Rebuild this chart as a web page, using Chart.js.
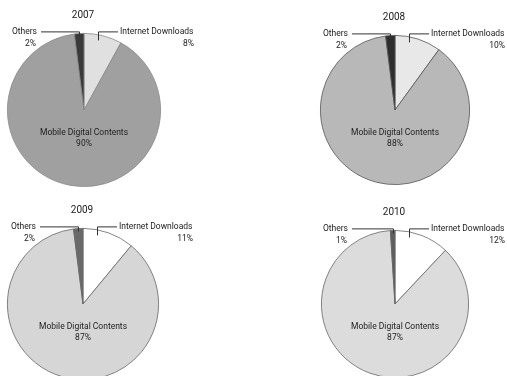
<!DOCTYPE html>
<html>
<head>
<meta charset="utf-8">
<script src="https://cdn.jsdelivr.net/npm/chart.js@4/dist/chart.umd.min.js"></script>
<style>
  html, body { margin: 0; padding: 0; background: #fff; overflow: hidden; }
  #wrap { position: relative; width: 507px; height: 376px; overflow: hidden; }
  #wrap canvas { position: absolute; left: 0; top: 0; }
</style>
</head>
<body>
<div id="wrap">
  <canvas id="pie2007" width="507" height="400"></canvas>
  <canvas id="pie2008" width="507" height="400"></canvas>
  <canvas id="pie2009" width="507" height="400"></canvas>
  <canvas id="pie2010" width="507" height="400"></canvas>
</div>
<script>
const years = ["2007", "2008", "2009", "2010"]
const categories = ["Internet Downloads", "Mobile Digital Contents", "Others"]
const internetShare = [8, 10, 11, 12]
const mobileShare = [90, 88, 87, 87]
const othersShare = [2, 2, 2, 1]

// where each pie sits on the page and how it is shaded
const pies = [
  { cx: 84, cy: 110, r: 77, fills: ["#e0e0e0", "#a0a0a0", "#3a3a3a"], border: "#8a8a8a" },
  { cx: 395, cy: 110, r: 75, fills: ["#e8e8e8", "#b8b8b8", "#2e2e2e"], border: "#555" },
  { cx: 83, cy: 304, r: 76, fills: ["#ffffff", "#d6d6d6", "#6a6a6a"], border: "#666" },
  { cx: 395, cy: 304, r: 74, fills: ["#ffffff", "#dcdcdc", "#5e5e5e"], border: "#666" }
]

const W = 507
const H = 400
const FONT = "Roboto, 'Open Sans', sans-serif"

const labelPlugin = {
  id: "pieLabels",
  afterDraw(chart) {
    const idx = chart.options.plugins.pieLabels.index
    const ctx = chart.ctx
    const meta = chart.getDatasetMeta(0)
    const arc = meta.data[0]
    const cx = arc.x
    const cy = arc.y
    const r = arc.outerRadius
    const top = cy - r
    const labelY = top - 2
    const ds = chart.data.datasets[0].data

    ctx.save()
    ctx.fillStyle = "#222"
    ctx.strokeStyle = "#333"
    ctx.lineWidth = 1
    ctx.textBaseline = "middle"

    // title
    ctx.font = "10px " + FONT
    ctx.textAlign = "center"
    ctx.fillText(years[idx], cx - 1, top - 18)

    ctx.font = "8.5px " + FONT

    // Others, left of the pie
    const others = meta.data[2]
    const mid = (others.startAngle + others.endAngle) / 2
    const ax = cx + r * Math.cos(mid)
    const ay = cy + r * Math.sin(mid)
    ctx.textAlign = "right"
    ctx.fillText(categories[2], cx - 47, labelY)
    ctx.fillText(ds[2] + "%", cx - 48, labelY + 12)
    ctx.beginPath()
    ctx.moveTo(cx - 43, labelY + 0.5)
    ctx.lineTo(Math.round(ax) + 0.5, labelY + 0.5)
    ctx.lineTo(Math.round(ax) + 0.5, ay + 3)
    ctx.stroke()

    // Internet Downloads, right of the pie
    const ix = Math.round(cx + 14) + 0.5
    ctx.beginPath()
    ctx.moveTo(ix, top + 7)
    ctx.lineTo(ix, labelY + 0.5)
    ctx.lineTo(cx + 34, labelY + 0.5)
    ctx.stroke()
    ctx.textAlign = "left"
    ctx.fillText(categories[0], cx + 36, labelY)
    ctx.textAlign = "right"
    ctx.fillText(ds[0] + "%", cx + 110, labelY + 12)

    // Mobile Digital Contents, inside the big slice
    ctx.textAlign = "center"
    ctx.fillText(categories[1], cx, cy + 23)
    ctx.fillText(ds[1] + "%", cx, cy + 34)
    ctx.restore()
  }
}

years.forEach((year, i) => {
  const p = pies[i]
  new Chart(document.getElementById("pie" + year), {
    type: "pie",
    data: {
      labels: categories,
      datasets: [
        {
          data: [internetShare[i], mobileShare[i], othersShare[i]],
          backgroundColor: p.fills,
          borderColor: p.border,
          borderWidth: 0.8
        }
      ]
    },
    options: {
      responsive: false,
      animation: false,
      events: [],
      layout: {
        padding: {
          left: p.cx - p.r,
          right: W - (p.cx + p.r),
          top: p.cy - p.r,
          bottom: H - (p.cy + p.r)
        }
      },
      plugins: {
        legend: { display: false },
        tooltip: { enabled: false },
        title: { display: false },
        pieLabels: { index: i }
      }
    },
    plugins: [labelPlugin]
  })
})
</script>
</body>
</html>
